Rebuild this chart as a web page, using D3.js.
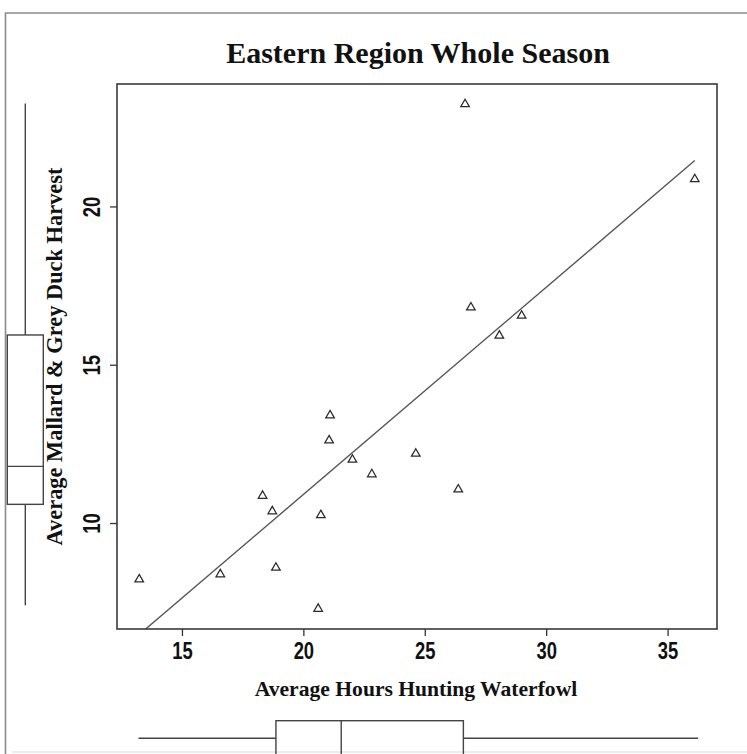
<!DOCTYPE html>
<html>
<head>
<meta charset="utf-8">
<script src="https://cdn.jsdelivr.net/npm/d3@7"></script>
<style>
  body { margin: 0; background: #fff; }
  svg { display: block; }
</style>
</head>
<body>
<svg id="chart" width="747" height="754"></svg>
<script>
// Average hours hunting waterfowl (x) and average mallard & grey duck harvest (y)
const hours   = [26.66, 36.12, 26.90, 28.99, 28.07, 21.10, 21.06, 22.02, 22.82,
                 18.32, 18.72, 20.72, 13.24, 16.58, 18.87, 20.61, 24.63, 26.38];
const harvest = [23.23, 20.86, 16.81, 16.55, 15.92, 13.40, 12.61, 12.00, 11.54,
                 10.86, 10.37, 10.25,  8.22,  8.38,  8.59,  7.29, 12.19, 11.06];

const xTicks = [15, 20, 25, 30, 35];
const yTicks = [10, 15, 20];

// Marginal box plot summaries: [min, lower hinge, median, upper hinge, max]
const hoursBox   = [13.21, 18.87, 21.56, 26.59, 36.26];
const harvestBox = [7.40, 10.59, 11.79, 15.94, 23.25];

const titleText = "Eastern Region Whole Season";
const xLabel = "Average Hours Hunting Waterfowl";
const yLabel = "Average Mallard & Grey Duck Harvest";

const svg = d3.select("#chart");
const plot = { left: 117, top: 84, right: 717, bottom: 629 };

// R-style 4% padding around the data range
function padded(values) {
  const [lo, hi] = d3.extent(values);
  const p = (hi - lo) * 0.04;
  return [lo - p, hi + p];
}

const x = d3.scaleLinear().domain(padded(hours)).range([plot.left, plot.right]);
const y = d3.scaleLinear().domain(padded(harvest)).range([plot.bottom, plot.top]);

const serif = "'Liberation Serif', 'Times New Roman', serif";
const sans = "'Liberation Sans', Arial, sans-serif";

// Page frame
svg.append("path")
  .attr("d", `M747,13 H5.5 V754`)
  .attr("fill", "none").attr("stroke", "#8a8a8a").attr("stroke-width", 1.6);
svg.append("line")
  .attr("x1", 12).attr("x2", 747).attr("y1", 752).attr("y2", 752)
  .attr("stroke", "#d8d8d8").attr("stroke-width", 1);

// Title
svg.append("text")
  .attr("x", 418).attr("y", 63)
  .attr("text-anchor", "middle")
  .attr("font-family", serif).attr("font-weight", "bold")
  .attr("font-size", 30).attr("fill", "#111")
  .text(titleText);

// Axes
const xAxis = svg.append("g")
  .attr("transform", `translate(0,${plot.bottom})`)
  .call(d3.axisBottom(x).tickValues(xTicks).tickSizeInner(7).tickSizeOuter(0));
xAxis.select(".domain").remove();
xAxis.selectAll("line").attr("stroke", "#333").attr("stroke-width", 1.3);
xAxis.selectAll("text")
  .attr("y", 14).attr("dy", "0.71em")
  .attr("transform", "scale(0.8,1)")
  .attr("font-family", sans).attr("font-weight", "bold")
  .attr("font-size", 23).attr("fill", "#111");

const yAxis = svg.append("g")
  .attr("transform", `translate(${plot.left},0)`)
  .call(d3.axisLeft(y).tickValues(yTicks).tickSizeInner(7).tickSizeOuter(0));
yAxis.select(".domain").remove();
yAxis.selectAll("line").attr("stroke", "#333").attr("stroke-width", 1.3);
yAxis.selectAll("text")
  .attr("x", null).attr("dy", null)
  .attr("text-anchor", "middle")
  .attr("transform", "translate(-17,0) rotate(-90) scale(0.8,1)")
  .attr("font-family", sans).attr("font-weight", "bold")
  .attr("font-size", 23).attr("fill", "#111");

// Axis titles
svg.append("text")
  .attr("x", 416).attr("y", 696)
  .attr("text-anchor", "middle")
  .attr("font-family", serif).attr("font-weight", "bold")
  .attr("font-size", 21.6).attr("fill", "#111")
  .text(xLabel);

svg.append("text")
  .attr("transform", `translate(62,${(plot.top + plot.bottom) / 2}) rotate(-90)`)
  .attr("text-anchor", "middle")
  .attr("font-family", serif).attr("font-weight", "bold")
  .attr("font-size", 22.4).attr("fill", "#111")
  .text(yLabel);

// Clip region for the fitted line
svg.append("clipPath").attr("id", "plot-clip")
  .append("rect")
  .attr("x", plot.left).attr("y", plot.top)
  .attr("width", plot.right - plot.left).attr("height", plot.bottom - plot.top);

// Least-squares fit of harvest on hours
const mx = d3.mean(hours), my = d3.mean(harvest);
const sxy = d3.sum(hours, (h, i) => (h - mx) * (harvest[i] - my));
const sxx = d3.sum(hours, h => (h - mx) * (h - mx));
const slope = sxy / sxx, intercept = my - slope * mx;
const [xMin, xMax] = d3.extent(hours);

svg.append("line")
  .attr("clip-path", "url(#plot-clip)")
  .attr("x1", x(xMin)).attr("y1", y(intercept + slope * xMin))
  .attr("x2", x(xMax)).attr("y2", y(intercept + slope * xMax))
  .attr("stroke", "#555").attr("stroke-width", 1.4);

// Points as open triangles
const tri = d3.symbol().type(d3.symbolTriangle).size(32);
svg.append("g").selectAll("path")
  .data(hours.map((h, i) => [h, harvest[i]]))
  .join("path")
  .attr("d", tri)
  .attr("transform", d => `translate(${x(d[0])},${y(d[1])})`)
  .attr("fill", "none").attr("stroke", "#2a2a2a").attr("stroke-width", 1.25);

// Plot border
svg.append("rect")
  .attr("x", plot.left).attr("y", plot.top)
  .attr("width", plot.right - plot.left).attr("height", plot.bottom - plot.top)
  .attr("fill", "none").attr("stroke", "#3a3a3a").attr("stroke-width", 1.6);

// Marginal box plot for harvest (left, vertical)
const vb = { cx: 25.3, half: 18 };
const gv = svg.append("g").attr("stroke", "#444").attr("stroke-width", 1.4).attr("fill", "none");
gv.append("line").attr("x1", vb.cx).attr("x2", vb.cx)
  .attr("y1", y(harvestBox[0])).attr("y2", y(harvestBox[1]));
gv.append("line").attr("x1", vb.cx).attr("x2", vb.cx)
  .attr("y1", y(harvestBox[3])).attr("y2", y(harvestBox[4]));
gv.append("rect")
  .attr("x", vb.cx - vb.half).attr("width", vb.half * 2)
  .attr("y", y(harvestBox[3])).attr("height", y(harvestBox[1]) - y(harvestBox[3]));
gv.append("line").attr("x1", vb.cx - vb.half).attr("x2", vb.cx + vb.half)
  .attr("y1", y(harvestBox[2])).attr("y2", y(harvestBox[2]));

// Marginal box plot for hours (bottom, horizontal)
const hb = { cy: 738.3, half: 17.6 };
const gh = svg.append("g").attr("stroke", "#444").attr("stroke-width", 1.4).attr("fill", "none");
gh.append("line").attr("y1", hb.cy).attr("y2", hb.cy)
  .attr("x1", x(hoursBox[0])).attr("x2", x(hoursBox[1]));
gh.append("line").attr("y1", hb.cy).attr("y2", hb.cy)
  .attr("x1", x(hoursBox[3])).attr("x2", x(hoursBox[4]));
gh.append("rect")
  .attr("y", hb.cy - hb.half).attr("height", hb.half * 2)
  .attr("x", x(hoursBox[1])).attr("width", x(hoursBox[3]) - x(hoursBox[1]));
gh.append("line").attr("y1", hb.cy - hb.half).attr("y2", hb.cy + hb.half)
  .attr("x1", x(hoursBox[2])).attr("x2", x(hoursBox[2]));
</script>
</body>
</html>
